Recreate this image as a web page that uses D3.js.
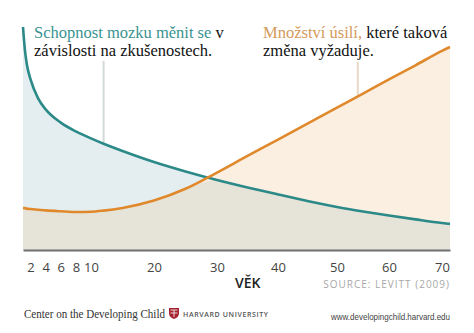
<!DOCTYPE html>
<html>
<head>
<meta charset="utf-8">
<script src="https://cdn.jsdelivr.net/npm/d3@7"></script>
<style>
  html, body { margin: 0; padding: 0; background: #fff; }
  svg { display: block; }
</style>
</head>
<body>
<svg id="chart" width="474" height="333"></svg>
<script>
// ---- data ----
const ages = [1, 1.25, 1.5, 2, 3, 4, 6, 8, 10, 12, 15, 20, 25, 30, 35, 40, 45, 50, 55, 60, 65, 70, 71.5];
const plasticity = [99.1, 88.9, 82.7, 75.8, 67.4, 62.5, 56.6, 52.7, 49.6, 47.2, 44.0, 39.1, 34.9, 31.1, 27.8, 24.7, 21.8, 19.1, 17.1, 15.3, 13.6, 12.0, 11.6];
const effort =     [18.7, 18.6, 18.4, 18.2, 17.9, 17.6, 17.2, 16.9, 17.0, 17.5, 18.7, 22.0, 27.2, 34.4, 41.8, 49.1, 56.2, 63.3, 69.5, 75.8, 82.1, 88.5, 90.2];
const tickAges = [2, 4, 6, 8, 10, 20, 30, 40, 50, 60, 70];
const scaleAges = [1, 10, 20, 30, 40, 50, 60, 70, 71.5];
const pointerAges = [12, 54];
const axisTitle = "VĚK";
const sourceText = "SOURCE: LEVITT (2009)";

// ---- layout ----
const svg = d3.select("#chart");
const xRange = [23, 91, 154, 217, 278, 337, 389, 442, 450];
const x = d3.scaleLinear().domain(scaleAges).range(xRange);
const y = d3.scaleLinear().domain([0, 100]).range([250, 25]);

const rows = ages.map((a, i) => ({age: a, p: plasticity[i], e: effort[i]}));

const C = {
  teal: "#2b8a88", tealText: "#3a9391", orange: "#e0892c", orangeText: "#d49a5a",
  blueFill: "#e4eef0", peachFill: "#fbefe2", grayFill: "#e6e3d9"
};

// fills
svg.append("path").datum(rows)
  .attr("fill", C.blueFill)
  .attr("d", d3.area().x(d => x(d.age)).y0(y(0)).y1(d => y(d.p)).curve(d3.curveMonotoneX));
svg.append("path").datum(rows)
  .attr("fill", C.peachFill)
  .attr("d", d3.area().x(d => x(d.age)).y0(y(0)).y1(d => y(d.e)).curve(d3.curveMonotoneX));
svg.append("path").datum(rows)
  .attr("fill", C.grayFill)
  .attr("d", d3.area().x(d => x(d.age)).y0(y(0)).y1(d => y(Math.min(d.p, d.e))).curve(d3.curveMonotoneX));

function valAt(arr, a) {
  const i = d3.bisectLeft(ages, a);
  if (ages[i] === a) return arr[i];
  const t = (a - ages[i-1]) / (ages[i] - ages[i-1]);
  return arr[i-1] + t * (arr[i] - arr[i-1]);
}
// pointer lines
svg.append("line")
  .attr("x1", x(pointerAges[0])).attr("x2", x(pointerAges[0]))
  .attr("y1", 61).attr("y2", y(valAt(plasticity, pointerAges[0])))
  .attr("stroke", "#d3d9d9").attr("stroke-width", 2);
svg.append("line")
  .attr("x1", x(pointerAges[1])).attr("x2", x(pointerAges[1]))
  .attr("y1", 62).attr("y2", y(valAt(effort, pointerAges[1])))
  .attr("stroke", "#e8d8c6").attr("stroke-width", 2);

// lines
svg.append("path").datum(rows)
  .attr("fill", "none").attr("stroke", C.teal).attr("stroke-width", 2.6)
  .attr("d", d3.line().x(d => x(d.age)).y(d => y(d.p)).curve(d3.curveMonotoneX));
svg.append("path").datum(rows)
  .attr("fill", "none").attr("stroke", C.orange).attr("stroke-width", 2.6)
  .attr("d", d3.line().x(d => x(d.age)).y(d => y(d.e)).curve(d3.curveMonotoneX));

// axis
const axis = svg.append("g").attr("transform", `translate(0,${y(0)})`)
  .call(d3.axisBottom(x).tickValues(tickAges).tickSize(0).tickSizeOuter(0).tickPadding(13).tickFormat(d3.format("d")));
axis.select(".domain").attr("stroke", "#6f6f6f").attr("stroke-width", 2);
axis.selectAll("text")
  .attr("font-family", "'Open Sans', sans-serif").attr("font-size", 13).attr("fill", "#444");

svg.append("text").attr("x", 235).attr("y", 288)
  .attr("font-family", "'Open Sans', sans-serif").attr("font-size", 14).attr("font-weight", 600)
  .attr("fill", "#222").text(axisTitle);
svg.append("text").attr("x", 450).attr("y", 288).attr("text-anchor", "end")
  .attr("font-family", "'Open Sans', sans-serif").attr("font-size", 10)
  .attr("letter-spacing", 1).attr("fill", "#a8a8a8").text(sourceText);

// annotations
const serif = "'Liberation Serif', 'Times New Roman', serif";
const t1 = svg.append("text").attr("x", 34).attr("y", 38)
  .attr("font-family", serif).attr("font-size", 16.5);
t1.append("tspan").attr("fill", C.tealText).text("Schopnost mozku měnit se");
t1.append("tspan").attr("fill", "#111").text(" v");
svg.append("text").attr("x", 34).attr("y", 56)
  .attr("font-family", serif).attr("font-size", 16.5).attr("fill", "#111")
  .text("závislosti na zkušenostech.");

const t2 = svg.append("text").attr("x", 263).attr("y", 38)
  .attr("font-family", serif).attr("font-size", 16.5);
t2.append("tspan").attr("fill", C.orangeText).text("Množství úsilí,");
t2.append("tspan").attr("fill", "#111").text(" které taková");
svg.append("text").attr("x", 263).attr("y", 56)
  .attr("font-family", serif).attr("font-size", 16.5).attr("fill", "#111")
  .text("změna vyžaduje.");

// footer
svg.append("text").attr("x", 24).attr("y", 318)
  .attr("font-family", serif).attr("font-size", 12).attr("fill", "#333")
  .attr("textLength", 141).attr("lengthAdjust", "spacingAndGlyphs")
  .text("Center on the Developing Child");
// shield
const sh = svg.append("g").attr("transform", "translate(169,308)");
sh.append("path").attr("d", "M0,0 H10 V5 Q10,9.5 5,11 Q0,9.5 0,5 Z").attr("fill", "#a5232f");
sh.append("path").attr("d", "M1.5,2 H8.5 M1.5,5 H8.5 M5,2 V9").attr("stroke", "#fff").attr("stroke-width", 0.8);
svg.append("text").attr("x", 183).attr("y", 317)
  .attr("font-family", "'Open Sans', sans-serif").attr("font-size", 7).attr("font-weight", 600)
  .attr("fill", "#555").attr("textLength", 85).attr("lengthAdjust", "spacing")
  .text("HARVARD UNIVERSITY");
svg.append("text").attr("x", 331).attr("y", 320)
  .attr("font-family", "'Liberation Sans Narrow', 'Liberation Sans', sans-serif").attr("font-size", 9)
  .attr("fill", "#444").attr("textLength", 119).attr("lengthAdjust", "spacingAndGlyphs")
  .text("www.developingchild.harvard.edu");
</script>
</body>
</html>
